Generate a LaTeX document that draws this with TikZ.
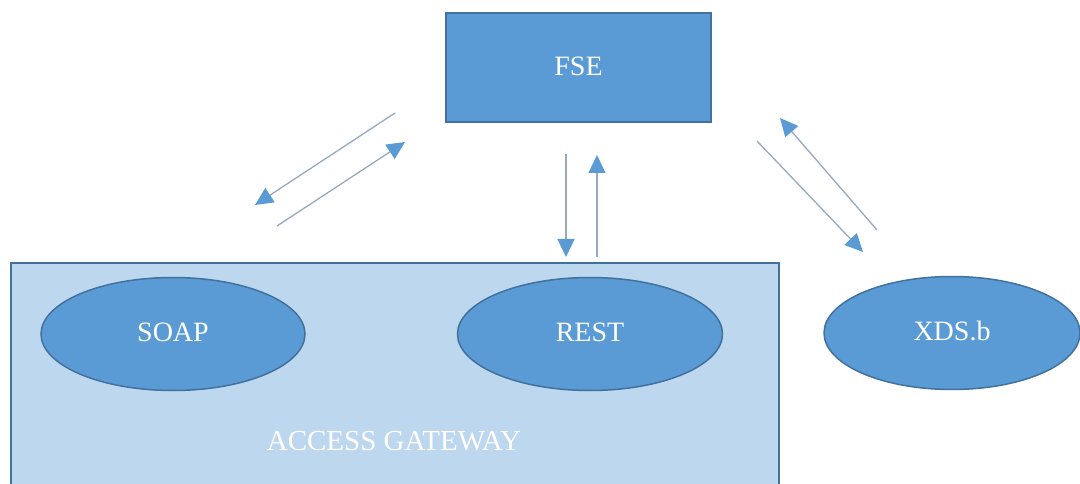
\documentclass[tikz,border=0pt]{standalone}
\usepackage{fontspec}
\setmainfont{Liberation Serif}
\usetikzlibrary{shapes.geometric,arrows.meta}
\definecolor{darkfill}{HTML}{5B9BD5}
\definecolor{darkline}{HTML}{41719C}
\definecolor{lightfill}{HTML}{BDD7EE}
\definecolor{arrline}{HTML}{98A8C0}
\newcommand{\uptext}[1]{\raisebox{3.5pt}{#1}}
\begin{document}
\begin{tikzpicture}[x=1pt,y=-1pt,
  blockbox/.style={draw=darkline,line width=1.5pt,fill=darkfill,text=white,inner sep=0pt,font=\fontsize{28}{32}\selectfont},
  ovalbox/.style={ellipse,draw=darkline,line width=1.5pt,fill=darkfill,text=white,inner sep=0pt,font=\fontsize{28}{32}\selectfont},
  flow/.style={draw=arrline,line width=1.3pt,-{Triangle[length=18pt,width=17pt,color=darkfill]}}]
\useasboundingbox (0,0) rectangle (1080,484);
\begin{scope}
\clip (0,0) rectangle (1080,484);
\node[draw=darkline,line width=1.5pt,fill=lightfill,minimum width=768pt,minimum height=240pt,inner sep=0pt,anchor=north west] (gw) at (10,262) {};
\node[blockbox,minimum width=265pt,minimum height=109pt] (fse) at (578.5,67.5) {\uptext{FSE}};
\node[ovalbox,minimum width=264pt,minimum height=113pt] (soap) at (173,334) {\uptext{SOAP}};
\node[ovalbox,minimum width=265pt,minimum height=113pt] (rest) at (590,334) {\uptext{REST}};
\node[ovalbox,minimum width=256pt,minimum height=113pt] (xds) at (952,333) {\uptext{XDS.b}};
\node[text=white,font=\fontsize{29}{33}\selectfont,inner sep=0pt] (gwlabel) at (394,441) {ACCESS GATEWAY};
\end{scope}
\coordinate (a1s) at (395,113); \coordinate (a1e) at (255,205);
\coordinate (a2s) at (277,226); \coordinate (a2e) at (405,142);
\coordinate (a3s) at (566,154); \coordinate (a3e) at (566,257);
\coordinate (a4s) at (597,257); \coordinate (a4e) at (597,155);
\coordinate (a5s) at (757,141); \coordinate (a5e) at (863,252);
\coordinate (a6s) at (877,230); \coordinate (a6e) at (780,118);
\draw[flow] (a1s) -- (a1e);
\draw[flow] (a2s) -- (a2e);
\draw[flow] (a3s) -- (a3e);
\draw[flow] (a4s) -- (a4e);
\draw[flow] (a5s) -- (a5e);
\draw[flow] (a6s) -- (a6e);
\end{tikzpicture}
\end{document}
